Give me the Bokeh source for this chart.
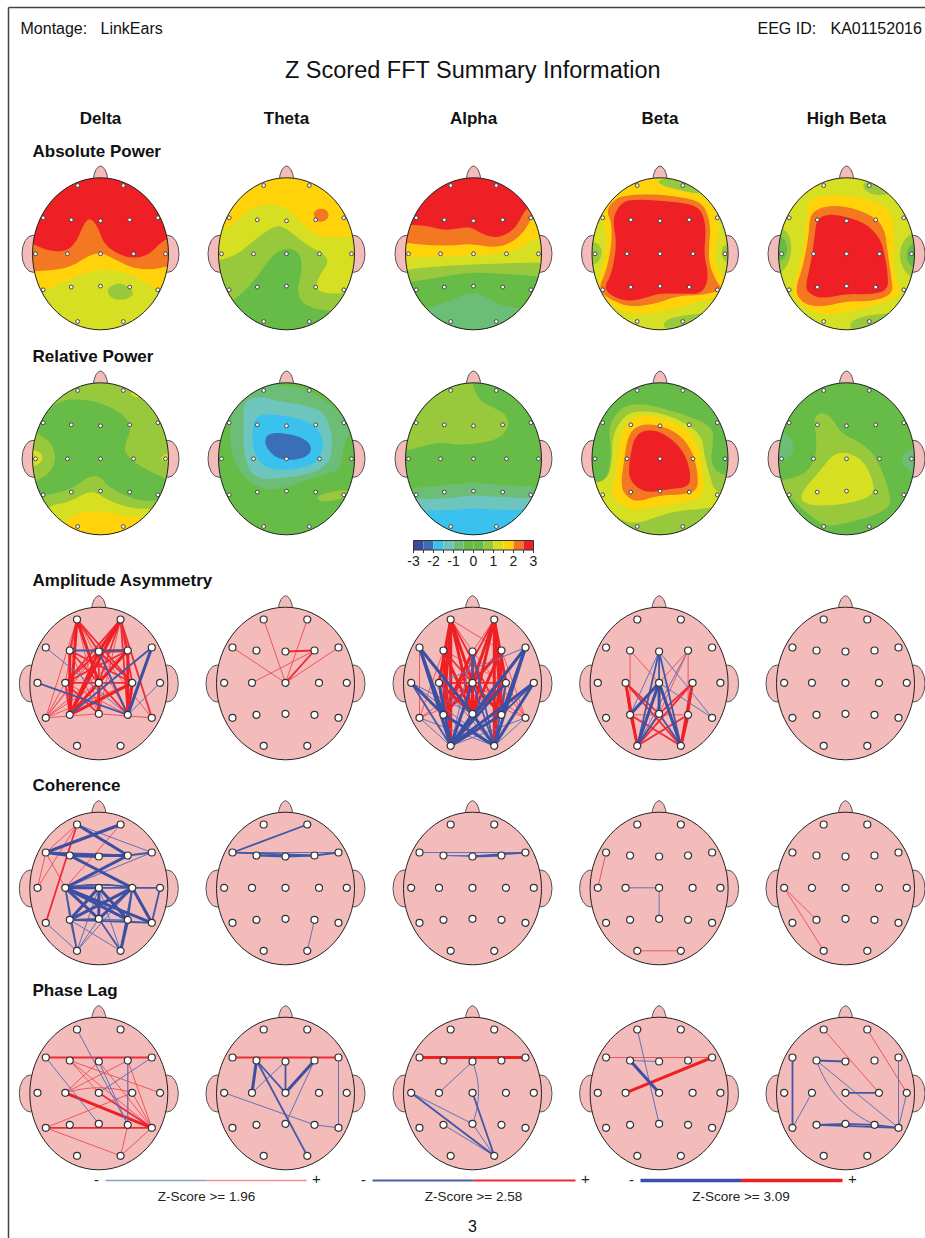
import math
from bokeh.plotting import figure
from bokeh.models import Range1d
from bokeh.core.properties import value
from bokeh.embed import file_html
from bokeh.resources import INLINE

# ---------- text ----------
BANDS = ["Delta", "Theta", "Alpha", "Beta", "High Beta"]
ROW_LABELS = ["Absolute Power", "Relative Power", "Amplitude Asymmetry", "Coherence", "Phase Lag"]
ROW_LABEL_Y = [151, 356, 580, 785, 990]
COL_X = [100, 286, 473, 659.5, 846]
NET_COL_X = [98.3, 285, 472, 658.6, 845]
TOPO_ROW_Y = [253.3, 458.3]
NET_ROW_Y = [682.3, 887.3, 1092.3]
Z_TICKS = [-3, -2, -1, 0, 1, 2, 3]
Z_EDGES = [-3, -2.5, -2, -1.5, -1, -0.5, 0, 0.5, 1, 1.5, 2, 2.5, 3]

# ---------- colours of the z-score scale ----------
DB, MB, LB, TE, GG, GR, LG, YG, YE, OR, RE = ("#3b4a9f", "#3a6fb7", "#3bc1ee", "#6dc5bd", "#6cbd75", "#66bc46",
                                              "#98c93c", "#d7df23", "#ffd20a", "#f47721", "#ee2025")
Z_COLORS = [DB, MB, LB, TE, GG, GR, GR, LG, YG, YE, OR, RE]
PINK = "#f4bbbb"

# ---------- electrode positions, head-relative ----------
NAMES = ["Fp1", "Fp2", "F7", "F3", "Fz", "F4", "F8", "T3", "C3", "Cz", "C4", "T4", "T5", "P3", "Pz", "P4", "T6", "O1", "O2"]
TOPO_EX = [-22.8, 22.8, -57.3, -29.2, 0, 29.2, 57.3, -65, -33, 0, 33, 65, -57.3, -29.2, 0, 29.2, 57.3, -22.8, 22.8]
TOPO_EY = [-68.3, -68.3, -36, -34, -33, -34, -36, 0, 0, 0, 0, 0, 36, 33.3, 32.3, 33.3, 36, 67.7, 67.7]
NET_EX = [-21.8, 21.8, -53, -29, 0, 29, 53, -61.3, -33.5, 0, 33.5, 61.3, -53, -29, 0, 29, 53, -21.8, 21.8]
NET_EY = [-63.3, -63.3, -35.3, -32.3, -31.3, -32.3, -35.3, 0, 0, 0, 0, 0, 35, 32, 31, 32, 35, 63, 63]

# ---------- contour bands (crop pixels; painted in order) ----------
# each: (row, col, x-scale, centre x, centre y, base colour, [(colour, outline), ...])
A_DELTA = (0, 0, 3.0, 300, 370, YG, [
    (LG, [(318,482),(335,462),(365,458),(395,478),(398,495),(370,510),(335,505)]),
    (YE, [(60,440),(128,482),(190,455),(250,428),(310,416),(380,425),(440,460),(475,480),(540,440),(540,60),(60,60)]),
    (OR, [(60,425),(150,420),(210,410),(260,378),(300,365),(340,385),(400,415),(470,417),(540,395),(540,60),(60,60)]),
    (RE, [(60,320),(130,358),(190,365),(225,340),(250,280),(268,262),(290,285),(310,340),(350,370),(400,385),(450,370),(485,330),(540,315),(540,60),(60,60)]),
])
A_THETA = (0, 1, 3.0, 858, 370, YE, [
    (YG, [(620,300),(690,290),(740,240),(790,220),(850,225),(880,250),(930,305),(980,322),(1090,315),(1090,640),(620,640)]),
    (LG, [(620,395),(700,380),(760,330),(825,283),(860,295),(920,345),(970,370),(985,395),(960,430),(945,465),(960,487),(1030,490),(1090,470),(1090,640),(620,640)]),
    (GR, [(660,530),(720,495),(770,440),(810,380),(850,352),(890,360),(905,390),(900,440),(890,480),(905,520),(960,540),(1010,540),(1060,570),(1000,660),(700,660)]),
    (OR, [(937,250),(950,235),(975,235),(987,255),(975,272),(950,275)]),
])
A_ALPHA = (0, 2, 2.877, 267, 370, RE, [
    (OR, [(40,282),(130,285),(180,300),(235,292),(260,290),(300,315),(340,322),(380,300),(400,270),(420,230),(500,200),(500,660),(40,660)]),
    (YE, [(40,333),(140,345),(210,345),(260,340),(330,352),(380,335),(415,300),(437,255),(500,230),(500,660),(40,660)]),
    (YG, [(40,380),(150,378),(250,375),(330,372),(400,355),(440,325),(500,310),(500,660),(40,660)]),
    (LG, [(40,422),(150,408),(270,402),(370,398),(500,395),(500,660),(40,660)]),
    (GR, [(40,462),(170,440),(260,425),(350,430),(500,440),(500,660),(40,660)]),
    (GG, [(90,545),(130,535),(190,515),(250,487),(290,490),(340,525),(410,535),(460,545),(460,660),(90,660)]),
])
A_BETA = (0, 3, 2.877, 804, 370, YG, [
    (LG, [(795,150),(840,140),(900,160),(925,192),(860,180),(810,165)]),
    (LG, [(815,592),(815,575),(840,560),(900,552),(950,545),(930,580),(870,630)]),
    (LG, [(590,335),(625,335),(640,365),(625,400),(590,405)]),
    (LG, [(1020,335),(985,345),(980,370),(990,395),(1020,405)]),
    (YE, [(790,120),(795,165),(860,180),(925,195),(965,240),(975,300),(965,340),(960,380),(975,430),(1020,470),(1020,485),(900,520),(820,540),(760,552),(700,548),(660,520),(625,480),(630,440),(650,370),(650,310),(640,260),(590,250),(590,120)]),
    (OR, [(700,195),(790,190),(900,205),(935,230),(950,290),(945,340),(945,400),(965,450),(985,478),(920,495),(860,495),(790,520),(720,530),(665,510),(625,478),(650,420),(665,340),(665,280),(650,240),(670,210)]),
    (RE, [(720,207),(800,210),(890,220),(925,240),(937,300),(930,370),(945,440),(925,490),(870,490),(800,488),(740,510),(690,510),(640,478),(665,430),(680,340),(667,265),(690,220)]),
])
A_HIBETA = (0, 4, 2.877, 1341, 370, YG, [
    (LG, [(1125,280),(1170,300),(1185,345),(1175,400),(1150,430),(1125,430)]),
    (GR, [(1125,305),(1165,325),(1172,360),(1160,390),(1125,395)]),
    (LG, [(1560,290),(1510,320),(1492,365),(1500,410),(1525,440),(1560,450)]),
    (GR, [(1560,330),(1525,340),(1512,370),(1520,405),(1560,415)]),
    (LG, [(1385,165),(1405,150),(1440,155),(1475,190),(1430,195),(1400,185)]),
    (LG, [(1350,592),(1355,570),(1400,555),(1470,548),(1495,540),(1450,590),(1380,630)]),
    (YE, [(1230,205),(1280,195),(1350,195),(1430,215),(1475,250),(1480,320),(1475,380),(1480,440),(1500,480),(1470,510),(1400,530),(1340,545),(1280,555),(1220,535),(1185,490),(1195,440),(1215,370),(1225,290)]),
    (OR, [(1255,235),(1300,225),(1360,232),(1425,262),(1452,300),(1460,370),(1470,440),(1475,490),(1420,512),(1340,512),(1270,530),(1215,520),(1192,480),(1215,410),(1232,320),(1235,260)]),
    (RE, [(1275,255),(1310,252),(1370,268),(1410,290),(1440,330),(1450,370),(1460,430),(1460,480),(1410,492),(1340,490),(1270,505),(1235,490),(1222,470),(1240,390),(1250,310),(1255,270)]),
])
R_DELTA = (1, 0, 2.8, 278, 340, LG, [
    (GR, [(100,265),(140,290),(155,340),(135,385),(90,410),(85,440),(130,450),(200,430),(240,395),(275,390),(300,425),(370,462),(440,470),(490,420),(460,400),(400,370),(350,330),(345,300),(365,250),(350,215),(300,180),(230,160),(160,165),(90,225)]),
    (YG, [(125,482),(190,470),(240,440),(265,440),(310,470),(370,490),(440,490),(410,540),(280,610),(150,540)]),
    (YE, [(170,520),(260,492),(330,510),(410,520),(350,580),(280,610),(190,580)]),
    (YG, [(75,310),(108,318),(118,338),(105,358),(75,365)]),
    (YG, [(480,318),(455,328),(447,340),(460,350),(480,352)]),
    (YG, [(360,142),(375,143),(392,155),(370,155)]),
])
R_THETA = (1, 1, 2.8, 801, 340, GR, [
    (LG, [(885,458),(900,445),(960,432),(990,440),(950,462),(900,470)]),
    (GG, [(670,170),(735,115),(800,120),(870,135),(950,200),(985,245),(965,290),(955,340),(950,375),(880,395),(790,430),(735,432),(690,405),(650,340),(640,260),(650,200)]),
    (TE, [(680,170),(720,150),(790,170),(860,180),(905,200),(925,250),(930,300),(920,355),(870,385),(780,400),(720,400),(690,365),(680,300),(680,230)]),
    (LB, [(715,210),(770,205),(860,225),(900,265),(905,310),(880,360),(800,375),(740,368),(708,320),(705,255)]),
    (MB, [(745,270),(770,260),(830,270),(865,290),(872,320),(840,343),(780,343),(750,315),(740,290)]),
])
R_ALPHA = (1, 2, 2.8, 1324, 340, GR, [
    (LG, [(1120,320),(1190,300),(1230,290),(1300,300),(1390,285),(1425,245),(1415,205),(1375,185),(1335,160),(1315,90),(1180,80),(1120,200)]),
    (GG, [(1120,430),(1240,420),(1320,410),(1420,420),(1530,425),(1530,620),(1120,620)]),
    (TE, [(1120,460),(1250,460),(1320,448),(1400,455),(1530,460),(1530,620),(1120,620)]),
    (LB, [(1120,495),(1260,495),(1330,487),(1400,495),(1530,490),(1530,620),(1120,620)]),
])
R_BETA = (1, 3, 3.0, 268, 295, GR, [
    (LG, [(112,200),(150,140),(210,127),(320,155),(425,195),(428,250),(420,300),(440,340),(500,350),(500,550),(40,550),(40,375),(90,370),(115,335),(122,270)]),
    (YG, [(125,225),(160,165),(210,150),(280,160),(350,190),(395,230),(400,280),(415,340),(435,400),(500,405),(480,430),(400,445),(330,450),(270,465),(200,490),(150,480),(100,430),(50,390),(50,370),(110,360),(125,300)]),
    (YE, [(150,220),(175,180),(215,165),(270,170),(340,200),(375,240),(392,300),(400,375),(390,415),(340,425),(260,438),(190,450),(140,425),(122,400),(135,340),(145,270)]),
    (OR, [(172,225),(200,195),(250,190),(320,215),(365,270),(382,340),(380,390),(340,402),(260,405),(200,425),(170,410),(150,380),(160,300)]),
    (RE, [(190,235),(215,210),(260,210),(310,240),(345,285),(360,340),(355,380),(300,385),(235,397),(195,380),(172,345),(180,280)]),
])
R_HIBETA = (1, 4, 3.0, 829, 295, GR, [
    (GG, [(610,215),(650,215),(672,255),(665,285),(635,305),(610,310)]),
    (GG, [(1050,260),(1010,270),(992,295),(1005,320),(1030,340),(1050,340)]),
    (LG, [(730,175),(750,155),(780,165),(815,220),(870,245),(920,290),(960,400),(960,440),(900,470),(800,495),(760,495),(700,450),(625,375),(625,362),(700,345),(735,300),(740,240)]),
    (YG, [(690,400),(750,330),(790,280),(830,275),(880,300),(908,360),(912,400),(860,425),(760,437),(700,430)]),
])
TOPOS = [A_DELTA, A_THETA, A_ALPHA, A_BETA, A_HIBETA, R_DELTA, R_THETA, R_ALPHA, R_BETA, R_HIBETA]

# ---------- connections: (row, col, [(sign, strength, "From-To ...")]); "~n" bows the line ----------
ASYM_DELTA = (0, 0, [
    ("r",1,"T5-Fp1 T5-Fp2 T5-C4 T5-F4 T5-Cz T5-Fz T5-C3 T5-Pz Fp1-C3 Fp1-Pz Fp1-P4 Fp2-C3 Fp2-Pz Fz-T6 F3-C4 F3-Pz C3-P4 C3-F4 Cz-P4 Pz-T6"),
    ("r",2,"Fp2-T6 Fp1-C4 Fp2-Cz F3-Cz F3-C4 Fz-C3 F4-C3 C3-C4 Fp2-C3 Cz-P3 Fp1-Fz Fp1-F3 C3-Pz Cz-P4 Fp2-F4 Fp2-C4 Fp2-P4 Fz-Pz Fz-P4 Fz-C4 C3-P3"),
    ("r",3,"Fp1-P3 Fp1-Cz Fp2-P3 Fp2-Fz F3-P3 Fz-F4 Fz-P3 F4-P3 F4-P4 C4-P4 C4-P3 Cz-Pz"),
    ("b",1,"F7-P4 T4-P4"),
    ("b",2,"T3-P4 F3-F4 Fz-P4 F8-P3"),
    ("b",3,"F8-P4"),
])
ASYM_THETA = (0, 1, [
    ("r",1,"Fp1-Cz Fp2-Cz F7-Cz F8-Cz C3-F4"),
    ("r",2,"Fz-F4 F4-Cz"),
])
ASYM_ALPHA = (0, 2, [
    ("r",1,"F7-T5 T5-F3 T6-Fz T6-F4 T6-C4 Fp1-F4 Fz-Fp2 C3-T6 T5-C4 Fz-Fp1 T5-Cz F3-C4 T6-Cz"),
    ("r",2,"F3-P3 F4-P4 C3-C4 C3-P3 C4-P4 Fp1-P4 Fp2-P3 F3-P4 C3-Cz"),
    ("r",3,"Fp1-P3 Fp1-Pz Fp1-O1 Fp1-Cz Fp1-C3 Fp2-P4 Fp2-Pz Fp2-O2 Fp2-Cz Fp2-C4 F3-O1 F3-Pz F4-O2 F4-Pz F4-P3 Fz-Pz Fz-P3 C3-Pz C4-Pz Cz-Pz Cz-P3 Cz-P4"),
    ("b",1,"T3-O2 T5-O1 T6-O1 T6-O2 T3-Pz Fz-O1 F8-C3 C3-O2 T5-O2"),
    ("b",2,"Fz-Cz Cz-O2 C4-O2 T3-O1 T4-P4 F8-Pz Fz-O2"),
    ("b",3,"F7-O1 F7-Pz F7-P3 F8-O1 F8-P4 F8-O2 T3-P3 T4-O1 T4-O2 P3-O2 P4-O1 Pz-O1 Pz-O2 C3-O1 C4-O1 Cz-O1"),
])
ASYM_BETA = (0, 3, [
    ("r",1,"F3-Cz F3-P3 F4-P4 F4-Pz F4-Cz P3-P4 Pz-O2"),
    ("r",2,"C3-Pz C4-Pz C3-O2 C4-O1 P3-O2 P4-O1 Pz-O1 P3-O1 C3-P3 C4-P4"),
    ("r",3,"C3-O1 C4-O2 P4-O2"),
    ("b",1,"Fz-P3 Fz-T6 Cz-T6 F4-O1"),
    ("b",2,"Fz-O1 Fz-O2 Fz-Pz Pz-O1 Pz-O2"),
    ("b",3,"Cz-O1 Cz-O2 Cz-P3 Cz-Pz"),
])
ASYM_HIBETA = (0, 4, [])
COH_DELTA = (1, 0, [
    ("r",1,"Fp1-F7 Fp2-C3 F7-T3 Fp1-T3 F7-C3"),
    ("r",2,"Fp1-T5"),
    ("b",1,"Fp1-F8 T5-O1 Cz-O1 Cz-O2 P3-O1 P3-O2 Pz-O1 C4-O1 C3-P3 F8-C3 P3-P4 Pz-T6"),
    ("b",2,"F7-F4 C3-C4~-3 C3-T4 T4-T6 C4-O2 Pz-O2 P3-T6 C3-O1 C4-P4 F8-F4 P3-Pz"),
    ("b",3,"Fp1-F4 Fp2-F7 F7-F3 F3-F4 F3-Fz F3-C4 F4-C3 C3-Cz C4-T6 C3-T6 C3-Pz Cz-P3 Cz-Pz Cz-P4 C3-P4 C4-P3 C4-Pz P4-O2"),
])
COH_THETA = (1, 1, [
    ("b",1,"F3-F4 P4-O2 F7-F8"),
    ("b",2,"Fp2-F7 F7-F4 F3-Fz Fz-F4 F4-F8"),
])
COH_ALPHA = (1, 2, [
    ("b",1,"F7-F8 F3-F4 F3-Fz"),
    ("b",2,"Fz-F8 Fz-F4"),
])
COH_BETA = (1, 3, [("r",1,"F7-T3 O1-O2"), ("b",1,"C3-Cz Cz-Pz")])
COH_HIBETA = (1, 4, [("r",1,"T3-P3 T3-O1")])
PHASE_DELTA = (2, 0, [
    ("r",1,"F3-T4 F3-Cz C3-Fz C3-F4 C3-C4~-5 F4-T6 Fz-T6 F3-T6 T5-O2 O2-T6 O2-P4 T5-C4 F4-P4 C4-T6"),
    ("r",2,"F7-F8 T5-T6 Cz-T6"),
    ("r",3,"C3-T6"),
    ("b",1,"Fp1-P4 F7-Pz F8-Cz F4-P4 Fz-P4"),
])
PHASE_THETA = (2, 1, [
    ("r",2,"F7-F8"),
    ("b",1,"C3-Fz F4-Pz T3-P4 P4-T6 F8-T6"),
    ("b",2,"Cz-Fz F3-O2 F3-Cz"),
    ("b",3,"F3-C3 Cz-F4"),
])
PHASE_ALPHA = (2, 2, [
    ("r",3,"F7-F8"),
    ("b",1,"T3-Pz P3-O2 Pz-O2 Fz-C3 Fz-Pz~-6"),
    ("b",2,"T3-O2 Cz-O2"),
])
PHASE_BETA = (2, 3, [
    ("r",1,"F7-F8"),
    ("r",3,"C3-F8"),
    ("b",1,"F3-Fz Fp1-Pz"),
    ("b",3,"F3-Cz"),
])
PHASE_HIBETA = (2, 4, [
    ("r",1,"Fp1-C4 Fp2-T4"),
    ("b",1,"T5-C3 F3-T6 F3-P4~9 F8-T6 T4-T6"),
    ("b",2,"F7-T5 F3-Fz Cz-C4 P3-Pz Pz-P4 P3-T6 P4-T6"),
])
NETS = [ASYM_DELTA, ASYM_THETA, ASYM_ALPHA, ASYM_BETA, ASYM_HIBETA,
        COH_DELTA, COH_THETA, COH_ALPHA, COH_BETA, COH_HIBETA,
        PHASE_DELTA, PHASE_THETA, PHASE_ALPHA, PHASE_BETA, PHASE_HIBETA]

# ---------- line legend ----------
LEG_TEXT = ["Z-Score >= 1.96", "Z-Score >= 2.58", "Z-Score >= 3.09"]
LEG_X0 = [105, 372, 640]
LEG_XM = [206, 473, 740.5]
LEG_X1 = [306, 575, 842]
LEG_BLUE = ["#8f9fd0", "#4a60ae", "#3b50a8"]
LEG_RED = ["#f58b90", "#ee2a35", "#ee2024"]
LEG_W = [1.3, 2.0, 3.6]
NET_BLUE = {1: "#6073b8", 2: "#4058a8", 3: "#3b50a3"}
NET_RED = {1: "#f2555e", 2: "#ee2b36", 3: "#ee2024"}
NET_W = {1: 1.0, 2: 1.8, 3: 3.0}

W, H = 925, 1238
p = figure(width=W, height=H, output_backend="svg", toolbar_location=None,
           x_range=Range1d(0, W), y_range=Range1d(H, 0), min_border=0)
p.axis.visible = False
p.grid.visible = False
p.outline_line_color = None
p.background_fill_color = "white"
FONT = value("Liberation Sans")


def chaikin(pts, n=2):
    for _ in range(n):
        out = []
        for i in range(len(pts)):
            a, b = pts[i], pts[(i + 1) % len(pts)]
            out.append((0.75 * a[0] + 0.25 * b[0], 0.75 * a[1] + 0.25 * b[1]))
            out.append((0.25 * a[0] + 0.75 * b[0], 0.25 * a[1] + 0.75 * b[1]))
        pts = out
    return pts


def clip_ellipse(pts, rx, ry, n=72):
    clip = [(rx * math.cos(2 * math.pi * k / n), ry * math.sin(2 * math.pi * k / n)) for k in range(n)]
    for k in range(n):
        a, b = clip[k], clip[(k + 1) % n]
        side = lambda q: (b[0] - a[0]) * (q[1] - a[1]) - (b[1] - a[1]) * (q[0] - a[0])
        res = []
        for i in range(len(pts)):
            s, e = pts[i], pts[(i + 1) % len(pts)]
            ss, se = side(s), side(e)
            if ss >= 0:
                res.append(s)
            if (ss >= 0) != (se >= 0):
                t = ss / (ss - se)
                res.append((s[0] + t * (e[0] - s[0]), s[1] + t * (e[1] - s[1])))
        pts = res
        if not pts:
            break
    return pts


NOSE = [(-7, -75), (-6.5, -79), (-4.6, -84), (-2, -87), (0, -87.8), (2, -87), (4.6, -84), (6.5, -79), (7, -75)]


def draw_head(cx, cy, rx, ry, fill):
    p.ellipse([cx - rx + 0.5, cx + rx - 0.5], [cy, cy], width=22, height=37, fill_color=PINK, line_color="#555555", line_width=1)
    p.patch([cx + a for a, _ in NOSE], [cy + b for _, b in NOSE], fill_color=PINK, line_color="#555555", line_width=1)
    p.ellipse([cx], [cy], width=2 * rx, height=2 * ry, fill_color=fill, line_color=None)


# ---------- topographic maps ----------
for row, col, xs, zx0, zy0, base, bands in TOPOS:
    cx, cy = COL_X[col], TOPO_ROW_Y[row]
    rx, ry = 68, 76
    draw_head(cx, cy, rx, ry, base)
    px, py, cols = [], [], []
    for color, outline in bands:
        local = [((a - zx0) / xs, (b - zy0) / 3.0) for a, b in outline]
        poly = clip_ellipse(chaikin(local), rx, ry)
        if poly:
            px.append([cx + a for a, _ in poly])
            py.append([cy + b for _, b in poly])
            cols.append(color)
    p.patches(px, py, fill_color=cols, line_color=None)
    p.ellipse([cx], [cy], width=2 * rx, height=2 * ry, fill_color=None, line_color="#222222", line_width=1)
    p.scatter([cx + e for e in TOPO_EX], [cy + e for e in TOPO_EY], size=3.8, marker="circle",
              fill_color="white", line_color="#444444", line_width=1)

# ---------- connection maps ----------
for row, col, groups in NETS:
    cx, cy = NET_COL_X[col], NET_ROW_Y[row]
    rx, ry = 69, 76.3
    draw_head(cx, cy + 0.7, rx, ry, PINK)
    p.ellipse([cx], [cy + 0.7], width=2 * rx, height=2 * ry, fill_color=None, line_color="#222222", line_width=1)
    for sign, strength, spec in groups:
        color = (NET_RED if sign == "r" else NET_BLUE)[strength]
        lx, ly = [], []
        for token in spec.split():
            pair, _, bow = token.partition("~")
            a, b = pair.split("-")
            i, j = NAMES.index(a), NAMES.index(b)
            x0, y0, x1, y1 = cx + NET_EX[i], cy + NET_EY[i], cx + NET_EX[j], cy + NET_EY[j]
            if bow:
                d = float(bow)
                L = math.hypot(x1 - x0, y1 - y0)
                mx, my = (x0 + x1) / 2 - d * (y1 - y0) / L * 2, (y0 + y1) / 2 + d * (x1 - x0) / L * 2
                ts = [k / 16 for k in range(17)]
                lx.append([(1 - t) ** 2 * x0 + 2 * t * (1 - t) * mx + t * t * x1 for t in ts])
                ly.append([(1 - t) ** 2 * y0 + 2 * t * (1 - t) * my + t * t * y1 for t in ts])
            else:
                lx.append([x0, x1])
                ly.append([y0, y1])
        p.multi_line(lx, ly, line_color=color, line_width=NET_W[strength])
    p.scatter([cx + e for e in NET_EX], [cy + e for e in NET_EY], size=7, marker="circle",
              fill_color="white", line_color="#333333", line_width=1.2)

# ---------- page frame ----------
p.line([8, 8], [1238, 7], line_color="#444444", line_width=1.5)
p.line([8, 925], [7, 7], line_color="#444444", line_width=1.5)

# ---------- z-score colour bar ----------
zx = lambda v: 413 + (v + 3) * 20
p.quad(left=[zx(v) for v in Z_EDGES[:-1]], right=[zx(v) for v in Z_EDGES[1:]], top=540, bottom=549.5,
       fill_color=Z_COLORS, line_color=None)
p.quad(left=[zx(-3)], right=[zx(3)], top=[540], bottom=[549.5], fill_color=None, line_color="#333333", line_width=1)
p.segment(x0=[zx(v) for v in Z_EDGES], x1=[zx(v) for v in Z_EDGES], y0=549.5, y1=552.5, line_color="#333333", line_width=1)
p.text([zx(v) for v in Z_TICKS], [560] * len(Z_TICKS), text=[str(v) for v in Z_TICKS], text_font=FONT,
       text_font_size="14px", text_align="center", text_baseline="middle", text_color="#222222")

# ---------- line legend ----------
for i in range(3):
    p.line([LEG_X0[i], LEG_XM[i]], [1180, 1180], line_color=LEG_BLUE[i], line_width=LEG_W[i])
    p.line([LEG_XM[i], LEG_X1[i]], [1180, 1180], line_color=LEG_RED[i], line_width=LEG_W[i])
p.text([x - 9 for x in LEG_X0], [1179] * 3, text=["-"] * 3, text_font=FONT, text_font_size="15px",
       text_align="center", text_baseline="middle", text_color="#222222")
p.text([x + 10 for x in LEG_X1], [1178] * 3, text=["+"] * 3, text_font=FONT, text_font_size="15px",
       text_align="center", text_baseline="middle", text_color="#222222")
p.text(LEG_XM, [1196] * 3, text=LEG_TEXT, text_font=FONT, text_font_size="13.5px",
       text_align="center", text_baseline="middle", text_color="#222222")

# ---------- headings ----------
p.text([20, 100, 757, 830], [28] * 4, text=["Montage:", "LinkEars", "EEG ID:", "KA01152016"], text_font=FONT,
       text_font_size="16px", text_baseline="middle", text_color="#111111")
p.text([472.5], [69], text=["Z Scored FFT Summary Information"], text_font=FONT, text_font_size="23.5px",
       text_align="center", text_baseline="middle", text_color="#111111")
p.text(COL_X, [118] * 5, text=BANDS, text_font=FONT, text_font_size="17px", text_font_style="bold",
       text_align="center", text_baseline="middle", text_color="#111111")
p.text([32] * 5, ROW_LABEL_Y, text=ROW_LABELS, text_font=FONT, text_font_size="17px", text_font_style="bold",
       text_baseline="middle", text_color="#111111")
p.text([472], [1225], text=["3"], text_font=FONT, text_font_size="16px", text_align="center",
       text_baseline="middle", text_color="#111111")

open("out.html", "w").write(file_html(p, INLINE))
